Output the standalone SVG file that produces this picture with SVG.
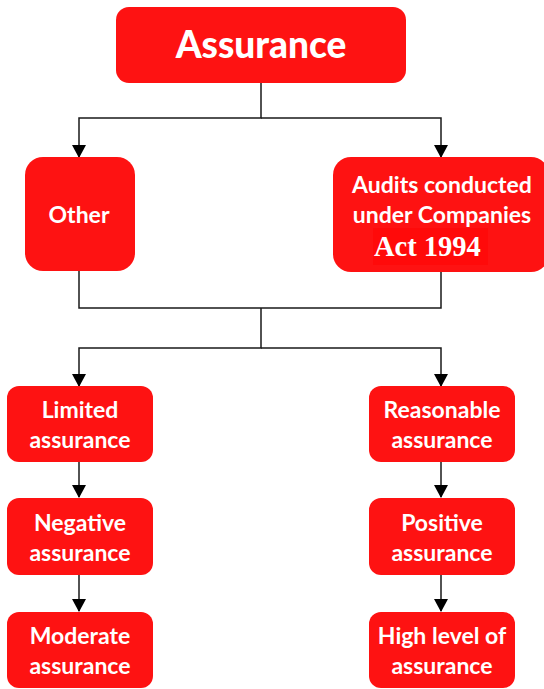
<svg xmlns="http://www.w3.org/2000/svg" width="544" height="689" viewBox="0 0 544 689">
  <defs>
    <style>
      .box { fill: #fe1212; }
      .lbl { fill: #ffffff; font-family: Lato, "Open Sans", "Liberation Sans", sans-serif; font-weight: bold; font-size: 23px; text-anchor: middle; }
      .title { font-size: 37px; font-weight: 900; }
      .serif { fill: #ffffff; font-family: "Liberation Serif", "Times New Roman", serif; font-weight: bold; font-size: 28.5px; }
      .wire { fill: none; stroke: #1a1a1a; stroke-width: 1.5; }
      .head { fill: #000000; }
    </style>
  </defs>

  <g id="connectors">
    <!-- root to first level -->
    <path class="wire" d="M261,83 V118 H79 V157" />
    <path class="wire" d="M261,118 H441 V157" />
    <path class="head" d="M72,145 L86,145 L79,158 Z"/>
    <path class="head" d="M434,145 L448,145 L441,158 Z"/>
    <!-- first level merge and split -->
    <path class="wire" d="M79,271 V308 H441 V272" />
    <path class="wire" d="M261,308 V348 H79 V386" />
    <path class="wire" d="M261,348 H441 V386" />
    <path class="head" d="M72,374 L86,374 L79,387 Z"/>
    <path class="head" d="M434,374 L448,374 L441,387 Z"/>
    <!-- left chain -->
    <path class="wire" d="M79,462 V497" />
    <path class="head" d="M72,485 L86,485 L79,498 Z"/>
    <path class="wire" d="M79,575 V611" />
    <path class="head" d="M72,599 L86,599 L79,612 Z"/>
    <!-- right chain -->
    <path class="wire" d="M441,462 V497" />
    <path class="head" d="M434,485 L448,485 L441,498 Z"/>
    <path class="wire" d="M441,575 V611" />
    <path class="head" d="M434,599 L448,599 L441,612 Z"/>
  </g>

  <g id="assurance">
    <rect class="box" x="116" y="7" width="290" height="76" rx="13"/>
    <text class="lbl title" x="261" y="58">Assurance</text>
  </g>

  <g id="other">
    <rect class="box" x="25" y="157" width="110" height="114" rx="18"/>
    <text class="lbl" x="79" y="223">Other</text>
  </g>

  <g id="audits">
    <rect class="box" x="333" y="157" width="216" height="115" rx="18"/>
    <text class="lbl" x="442" y="193">Audits conducted</text>
    <text class="lbl" x="442" y="223">under Companies</text>
    <rect x="373" y="228" width="115" height="37" fill="#ff0a0a"/>
    <text class="serif" x="374" y="256">Act 1994</text>
  </g>

  <g id="limited">
    <rect class="box" x="7" y="386" width="146" height="76" rx="12"/>
    <text class="lbl" x="80" y="418">Limited</text>
    <text class="lbl" x="80" y="448">assurance</text>
  </g>

  <g id="negative">
    <rect class="box" x="7" y="498" width="146" height="77" rx="12"/>
    <text class="lbl" x="80" y="531">Negative</text>
    <text class="lbl" x="80" y="561">assurance</text>
  </g>

  <g id="moderate">
    <rect class="box" x="7" y="612" width="146" height="76" rx="12"/>
    <text class="lbl" x="80" y="644">Moderate</text>
    <text class="lbl" x="80" y="674">assurance</text>
  </g>

  <g id="reasonable">
    <rect class="box" x="369" y="386" width="146" height="76" rx="12"/>
    <text class="lbl" x="442" y="418">Reasonable</text>
    <text class="lbl" x="442" y="448">assurance</text>
  </g>

  <g id="positive">
    <rect class="box" x="369" y="498" width="146" height="77" rx="12"/>
    <text class="lbl" x="442" y="531">Positive</text>
    <text class="lbl" x="442" y="561">assurance</text>
  </g>

  <g id="high">
    <rect class="box" x="369" y="612" width="146" height="76" rx="12"/>
    <text class="lbl" x="442" y="644">High level of</text>
    <text class="lbl" x="442" y="674">assurance</text>
  </g>
</svg>
